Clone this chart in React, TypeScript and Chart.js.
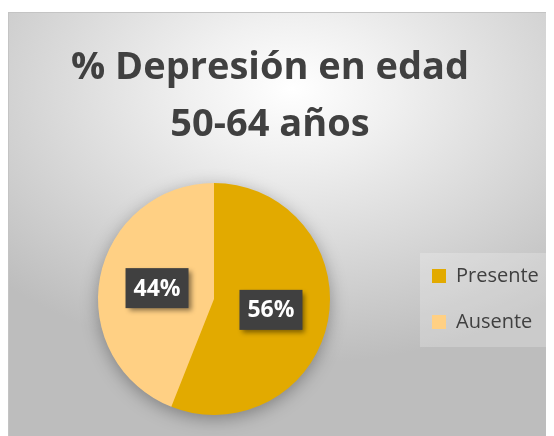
import React, { useEffect, useRef } from 'react';
import { Chart, registerables } from 'chart.js';
Chart.register(...registerables);

const titleLines = ['% Depresión en edad', '50-64 años'];
const categories = ['Presente', 'Ausente'];
const values = [56, 44];
const colors = ['#E2AA00', '#FFD084'];

const legendPlacement = {
  id: 'legendPlacement',
  afterLayout(chart: any) {
    const lg = chart.legend;
    const ca = chart.chartArea;
    if (!lg || !ca) return;
    lg.top = ca.top;
    lg.bottom = ca.bottom;
    lg.height = ca.bottom - ca.top;
    lg.right = chart.width;
    lg.width = lg.right - lg.left;
  },
};

const pieShadow = {
  id: 'pieShadow',
  beforeDatasetsDraw(chart: any) {
    const arc = chart.getDatasetMeta(0).data[0];
    if (!arc) return;
    const { x, y, outerRadius } = arc.getProps(['x', 'y', 'outerRadius'], true);
    const ctx = chart.ctx;
    ctx.save();
    ctx.shadowColor = 'rgba(0,0,0,0.35)';
    ctx.shadowBlur = 18;
    ctx.shadowOffsetY = 4;
    ctx.beginPath();
    ctx.arc(x, y, outerRadius - 1, 0, Math.PI * 2);
    ctx.fillStyle = colors[0];
    ctx.fill();
    ctx.restore();
  },
};

const labelBoxes = {
  id: 'labelBoxes',
  afterDatasetsDraw(chart: any) {
    const meta = chart.getDatasetMeta(0);
    const data = chart.data.datasets[0].data as number[];
    const total = data.reduce((a, b) => a + b, 0);
    const ctx = chart.ctx;
    meta.data.forEach((arc: any, i: number) => {
      const p = arc.tooltipPosition(true);
      const w = 63, h = 40;
      ctx.save();
      ctx.shadowColor = 'rgba(0,0,0,0.45)';
      ctx.shadowBlur = 5;
      ctx.shadowOffsetX = 3;
      ctx.shadowOffsetY = 3;
      ctx.fillStyle = '#404040';
      ctx.fillRect(p.x - w / 2, p.y - h / 2, w, h);
      ctx.restore();
      ctx.save();
      ctx.fillStyle = '#ffffff';
      ctx.font = 'bold 23px "Open Sans"';
      ctx.textAlign = 'center';
      ctx.textBaseline = 'middle';
      ctx.fillText(Math.round((data[i] / total) * 100) + '%', p.x, p.y + 1);
      ctx.restore();
    });
  },
};

const legendBox = {
  id: 'legendBox',
  beforeDraw(chart: any) {
    const lg = chart.legend;
    const hb = lg && lg.legendHitBoxes;
    if (!hb || !hb.length) return;
    const first = hb[0];
    const last = hb[hb.length - 1];
    const left = first.left - 12;
    const top = first.top - 13;
    const bottom = last.top + last.height + 15;
    const ctx = chart.ctx;
    ctx.save();
    ctx.fillStyle = 'rgba(255,255,255,0.22)';
    ctx.fillRect(left, top, 128, bottom - top);
    ctx.restore();
  },
};

export default function App() {
  const ref = useRef<HTMLCanvasElement>(null);
  useEffect(() => {
    document.documentElement.style.overflow = 'hidden';
    document.body.style.overflow = 'hidden';
    const chart = new Chart(ref.current as HTMLCanvasElement, {
      type: 'pie',
      data: {
        labels: categories,
        datasets: [
          {
            data: values,
            backgroundColor: colors,
            borderWidth: 0,
          },
        ],
      },
      options: {
        responsive: false,
        animation: false,
        layout: { padding: { left: 14, right: 36, top: 0, bottom: 21 } },
        plugins: {
          title: {
            display: true,
            text: titleLines,
            color: '#404040',
            font: { family: '"Open Sans"', size: 38, weight: 'bold', lineHeight: 57 / 38 },
            padding: { top: 28, bottom: 29 },
          },
          legend: {
            position: 'right',
            align: 'center',
            maxWidth: 112,
            labels: {
              boxWidth: 14,
              boxHeight: 14,
              padding: 26,
              color: '#404040',
              font: { family: '"Open Sans"', size: 20 },
            },
          },
          tooltip: { enabled: false },
        },
      },
      plugins: [legendPlacement, legendBox, pieShadow, labelBoxes],
    });
    return () => chart.destroy();
  }, []);
  return (
    <div style={{ paddingTop: 4 }}>
      <div
        style={{
          width: 546,
          height: 424,
          background:
            'radial-gradient(ellipse 75% 65% at 52% 18%, #ffffff 0%, #f0f0f0 25%, #bdbdbd 100%)',
          boxShadow: 'inset 1px 1px 0 #c4c4c4',
        }}
      >
        <canvas ref={ref} width={546} height={424} />
      </div>
    </div>
  );
}
